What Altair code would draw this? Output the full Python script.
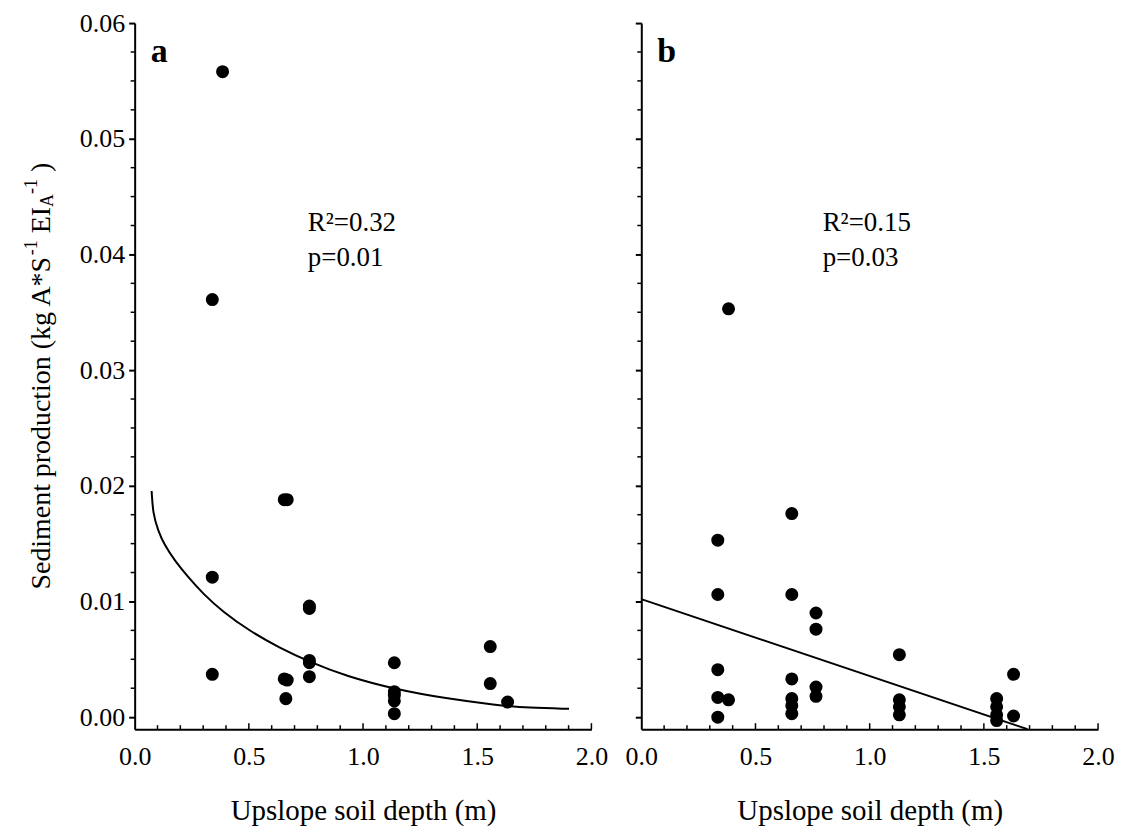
import altair as alt
import pandas as pd

# ---------------- data ----------------
depth_a = [0.34, 0.34, 0.34, 0.385, 0.655, 0.668, 0.655, 0.668, 0.662,
           0.765, 0.765, 0.765, 0.765, 0.765,
           1.137, 1.137, 1.137, 1.137, 1.137, 1.557, 1.557, 1.633]
sed_a = [0.0361, 0.0121, 0.0037, 0.0558, 0.0188, 0.0188, 0.0033, 0.0032, 0.0016,
         0.0096, 0.0094, 0.0049, 0.0047, 0.0035,
         0.0047, 0.0022, 0.0019, 0.0014, 0.0003, 0.0061, 0.0029, 0.0013]

depth_b = [0.335, 0.335, 0.335, 0.335, 0.335, 0.382, 0.382,
           0.659, 0.659, 0.659, 0.659, 0.659, 0.659,
           0.765, 0.765, 0.765, 0.765,
           1.130, 1.130, 1.130, 1.130,
           1.556, 1.556, 1.556, 1.556, 1.630, 1.630]
sed_b = [0.0153, 0.0106, 0.0041, 0.0017, 0.0000, 0.0353, 0.0015,
         0.0176, 0.0106, 0.0033, 0.0016, 0.0010, 0.0003,
         0.0090, 0.0076, 0.0026, 0.0018,
         0.0054, 0.0015, 0.0009, 0.0002,
         0.0016, 0.0009, 0.0002, -0.0003, 0.0037, 0.0001]

curve_a_x = [0.0743, 0.0802, 0.1020, 0.1312, 0.1749, 0.2332, 0.2988, 0.3862,
             0.5028, 0.6340, 0.7652, 0.9255, 1.1441, 1.3628, 1.5814, 1.7271, 1.9020]
curve_a_y = [0.01955, 0.01759, 0.01615, 0.01485, 0.01356, 0.01212, 0.01068, 0.00910,
             0.00746, 0.00599, 0.00478, 0.00354, 0.00239, 0.00161, 0.00104, 0.00081, 0.00072]

line_b_x = [0.0, 1.691]
line_b_y = [0.0102, -0.00104]

x_major = [0.5, 1.0, 1.5, 2.0]
x_minor = [0.1, 0.2, 0.3, 0.4, 0.6, 0.7, 0.8, 0.9, 1.1, 1.2, 1.3, 1.4, 1.6, 1.7, 1.8, 1.9]
y_major = [0.0, 0.01, 0.02, 0.03, 0.04, 0.05, 0.06]
y_minor = [0.0025, 0.005, 0.0075, 0.0125, 0.015, 0.0175, 0.0225, 0.025, 0.0275,
           0.0325, 0.035, 0.0375, 0.0425, 0.045, 0.0475, 0.0525, 0.055, 0.0575]

x_labels = [0.0, 0.5, 1.0, 1.5, 2.0]

stats_a = ["R²=0.32", "p=0.01"]
stats_b = ["R²=0.15", "p=0.03"]

# ---------------- styling ----------------
FONT = "Liberation Serif"
W, H = 458, 708
XDOM = [0, 2]
YDOM = [-0.00104, 0.06]
LABEL_SIZE = 26
TITLE_SIZE = 28

xsc = alt.Scale(domain=XDOM, nice=False, zero=False)
ysc = alt.Scale(domain=YDOM, nice=False, zero=False)


def make_panel(depth, sed, fit_x, fit_y, fit_interp, letter, stats, stat_x, first):
    xaxis = alt.Axis(values=x_labels, format=".1f", ticks=False, tickSize=0,
                     labelPadding=14, title="Upslope soil depth (m)",
                     titlePadding=28, titleFont=FONT, titleFontSize=29,
                     titleFontWeight="normal", titleColor="black",
                     labelFont=FONT, labelFontSize=LABEL_SIZE, labelColor="black",
                     domainColor="black", domainWidth=2, grid=False,
                     labelFlush=False, labelOverlap=False)
    yaxis = alt.Axis(values=y_major, format=".2f", tickSize=6, tickWidth=2,
                     tickColor="black", labelPadding=4, labels=first,
                     title=None, labelFont=FONT, labelFontSize=LABEL_SIZE,
                     labelColor="black", domainColor="black", domainWidth=2,
                     grid=False, labelFlush=False, labelOverlap=False)
    xenc = alt.X("depth:Q", scale=xsc, axis=xaxis)
    yenc = alt.Y("sed:Q", scale=ysc, axis=yaxis)

    pts = alt.Chart(pd.DataFrame({"depth": depth, "sed": sed})).mark_circle(
        size=170, color="black", opacity=1).encode(x=xenc, y=yenc)

    fit = alt.Chart(pd.DataFrame({"depth": fit_x, "sed": fit_y})).mark_line(
        color="black", strokeWidth=2, interpolate=fit_interp, clip=True
    ).encode(x=xenc, y=yenc)

    xt_major = alt.Chart(pd.DataFrame({"depth": x_major})).mark_tick(
        orient="vertical", size=6, thickness=1.5, color="black", yOffset=-3, opacity=1
    ).encode(x=xenc, y=alt.value(H))
    xt_minor = alt.Chart(pd.DataFrame({"depth": x_minor})).mark_tick(
        orient="vertical", size=4, thickness=1.5, color="black", yOffset=-2, opacity=1
    ).encode(x=xenc, y=alt.value(H))
    yt_minor = alt.Chart(pd.DataFrame({"sed": y_minor})).mark_tick(
        orient="horizontal", size=4, thickness=1.5, color="black", xOffset=-2, opacity=1
    ).encode(y=yenc, x=alt.value(0))

    let = alt.Chart(pd.DataFrame({"depth": [0.07], "sed": [0.0566], "t": [letter]})).mark_text(
        font=FONT, fontSize=34, fontWeight="bold", align="left", baseline="alphabetic",
        color="black"
    ).encode(x=xenc, y=yenc, text="t:N")

    st = alt.Chart(pd.DataFrame({"depth": [stat_x, stat_x], "sed": [0.04206, 0.03903],
                                 "t": stats})).mark_text(
        font=FONT, fontSize=27, align="left", baseline="alphabetic", color="black"
    ).encode(x=xenc, y=yenc, text="t:N")

    layers = [fit, pts, xt_major, xt_minor, yt_minor, let, st]

    if first:
        # y-axis title with super/subscripts, built from pieces (rotated)
        em = {"S": .556, "e": .444, "d": .5, "i": .278, "m": .778, "n": .5, "t": .278,
              " ": .25, "p": .5, "r": .333, "o": .5, "u": .5, "c": .444, "(": .333,
              "k": .5, "g": .5, "A": .722, "*": .5, "-": .333, "1": .5, "E": .611,
              "I": .333, ")": .333}
        # (text, font size, shift across the baseline, gap before in em of title font)
        pieces = [("Sediment production (kg A*S", TITLE_SIZE, 0, 0.0),
                  ("-1", 18, -10, 0.0),
                  ("EI", TITLE_SIZE, 0, 0.25),
                  ("A", 18, 6, 0.0),
                  ("-1", 18, -10, 0.0),
                  (")", TITLE_SIZE, 0, 0.25)]
        widths = [sum(em.get(c, .5) for c in s) * fs + gap * TITLE_SIZE
                  for s, fs, _, gap in pieces]
        total = sum(widths)
        anchor_x = -93
        ypos = H / 2 + total / 2
        for (s, fs, shift, gap), w in zip(pieces, widths):
            ypos -= gap * TITLE_SIZE
            layers.append(
                alt.Chart(pd.DataFrame({"t": [s]})).mark_text(
                    font=FONT, fontSize=fs, angle=270, align="left",
                    baseline="middle", color="black"
                ).encode(text="t:N", x=alt.value(anchor_x + shift), y=alt.value(ypos))
            )
            ypos -= w - gap * TITLE_SIZE

    return alt.layer(*layers).properties(width=W, height=H)


panel_a = make_panel(depth_a, sed_a, curve_a_x, curve_a_y, "basis", "a",
                     stats_a, 0.758, True)
panel_b = make_panel(depth_b, sed_b, line_b_x, line_b_y, "linear", "b",
                     stats_b, 0.794, False)

chart = alt.hconcat(panel_a, panel_b, spacing=50, bounds="flush").properties(
    padding={"left": 15, "top": 1, "right": 5, "bottom": 5},
    background="white"
).configure_view(stroke=None)

chart.save("out.html", embed_options={"renderer": "svg", "actions": False})
